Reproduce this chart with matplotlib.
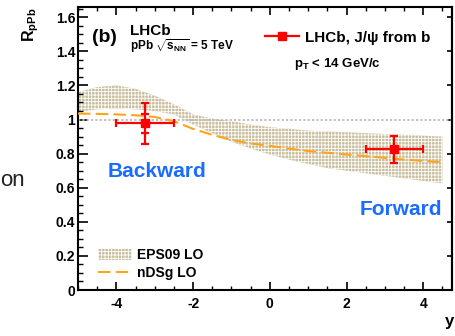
import matplotlib
matplotlib.use("Agg")
import matplotlib.pyplot as plt
import numpy as np
from matplotlib.lines import Line2D
from matplotlib.patches import Patch
from matplotlib.ticker import MultipleLocator, FormatStrFormatter, NullLocator

plt.rcParams['font.family'] = ['Liberation Sans', 'DejaVu Sans']
plt.rcParams['mathtext.fontset'] = 'custom'
plt.rcParams['mathtext.rm'] = 'Liberation Sans'
plt.rcParams['mathtext.bf'] = 'Liberation Sans:bold'
plt.rcParams['mathtext.it'] = 'Liberation Sans:italic'
plt.rcParams['axes.unicode_minus'] = False
plt.rcParams['hatch.linewidth'] = 0.6

# LHCb J/psi from b, R_pPb vs rapidity
x_pts = [-3.25, 3.25]
x_err = [0.75, 0.75]
y_pts = [0.977, 0.825]
y_tot = [0.12, 0.081]
y_stat = [0.057, 0.012]

# EPS09 LO band
x_band = [-5, -4.5, -4, -3.5, -3, -2.5, -2, -1.5, -1, -0.5, 0, 0.5, 1, 1.5, 2, 2.5, 3, 3.5, 4, 4.5]
band_hi = [1.16, 1.19, 1.20, 1.18, 1.14, 1.09, 1.03, 1.005, 0.99, 0.97, 0.955, 0.945, 0.935, 0.93, 0.925, 0.92, 0.915, 0.91, 0.905, 0.90]
band_lo = [1.045, 1.06, 1.065, 1.06, 1.05, 1.03, 0.97, 0.92, 0.87, 0.83, 0.795, 0.765, 0.74, 0.715, 0.70, 0.685, 0.67, 0.655, 0.64, 0.625]

# nDSg LO curve
ndsg = [1.035, 1.033, 1.03, 1.025, 1.015, 0.99, 0.945, 0.91, 0.88, 0.86, 0.845, 0.83, 0.815, 0.805, 0.795, 0.785, 0.775, 0.765, 0.757, 0.75]

yticks = [0, 0.2, 0.4, 0.6, 0.8, 1.0, 1.2, 1.4, 1.6]

fig = plt.figure(figsize=(4.55, 3.36), dpi=100)
ax = fig.add_axes([78/455, 1-290/336, 374/455, 283/336])

band = ax.fill_between(x_band, band_lo, band_hi, facecolor='#c9bd9b', edgecolor='white',
                       hatch='+++++', linewidth=0, zorder=1)
ax.axhline(1.0, color='#bbbbbb', ls=(0, (1.2, 1.2)), lw=1.3, zorder=2)
ax.plot(x_band, ndsg, color='#ffa31a', lw=1.5, dashes=(6, 2.5), zorder=3)

red = '#ff0000'
ax.errorbar(x_pts, y_pts, xerr=x_err, yerr=y_tot, fmt='none', ecolor=red, elinewidth=1.6,
            capsize=3, capthick=1.6, zorder=4)
# stat caps only
ax.errorbar(x_pts, y_pts, yerr=y_stat, fmt='none', ecolor=red, elinewidth=0,
            capsize=3, capthick=1.6, zorder=4)
ax.plot(x_pts, y_pts, 's', color=red, ms=5.5, zorder=5)

ax.set_xlim(-5, 4.75)
ax.set_ylim(0, 1.66)
ax.set_yticks(yticks)
ax.yaxis.set_major_formatter(FormatStrFormatter('%g'))
ax.xaxis.set_major_locator(MultipleLocator(2))
ax.xaxis.set_minor_locator(MultipleLocator(0.5))
ax.yaxis.set_minor_locator(MultipleLocator(0.05))
ax.xaxis.set_major_formatter(FormatStrFormatter('%g'))

ax.tick_params(axis='x', which='major', direction='in', length=6, width=1.2, top=True,
               labelsize=10, pad=5)
ax.tick_params(axis='x', which='minor', direction='in', length=3, width=1.0, top=True)
ax.tick_params(axis='y', which='major', direction='in', length=7, width=1.2, right=False,
               labelsize=10, pad=2)
ax.tick_params(axis='y', which='minor', direction='in', length=3.5, width=1.0, right=False)
for lab in ax.get_xticklabels() + ax.get_yticklabels():
    lab.set_fontweight('bold')
for s in ax.spines.values():
    s.set_linewidth(1.5)

sec = ax.secondary_yaxis('right')
sec.set_yticks(yticks)
sec.yaxis.set_minor_locator(NullLocator())
sec.tick_params(direction='in', length=3.5, width=1.2, labelright=False)
sec.spines['right'].set_linewidth(1.5)

# texts
ax.text(0.038, 0.892, '(b)', transform=ax.transAxes, fontsize=14, fontweight='bold', va='center')
ax.text(0.139, 0.915, 'LHCb', transform=ax.transAxes, fontsize=11, fontweight='bold', va='center')
ax.text(0.139, 0.862, r'pPb $\sqrt{\mathbf{s}_{\mathbf{NN}}}$ = 5 TeV', transform=ax.transAxes,
        fontsize=8.5, fontweight='bold', va='center')
ax.text(0.578, 0.789, r'p$_{\mathbf{T}}$ < 14 GeV/c', transform=ax.transAxes, fontsize=9.5,
        fontweight='bold', va='baseline')
ax.text(0.078, 0.399, 'Backward', transform=ax.transAxes, fontsize=15, fontweight='bold',
        color='#1a6cff', va='baseline')
ax.text(0.754, 0.265, 'Forward', transform=ax.transAxes, fontsize=15, fontweight='bold',
        color='#1a6cff', va='baseline')

h1 = Line2D([], [], color=red, lw=1.6, marker='s', ms=5.5)
leg1 = ax.legend([h1], ['LHCb, J/\u03c8 from b'], loc='center left', bbox_to_anchor=(0.5, 0.8915),
                 frameon=False, handlelength=2.2, handletextpad=0.45,
                 borderpad=0, borderaxespad=0, prop={'weight': 'bold', 'size': 11})
ax.add_artist(leg1)

h2 = Patch(facecolor='#c9bd9b', edgecolor='white', hatch='+++++', linewidth=0)
h3 = Line2D([], [], color='#ffa31a', lw=1.5, dashes=(6, 2.5))
ax.legend([h2, h3], ['EPS09 LO', 'nDSg LO'], loc='center left', bbox_to_anchor=(0.0535, 0.092),
          frameon=False, handlelength=2.45, handleheight=0.85, handletextpad=0.36,
          labelspacing=0.3, borderpad=0, borderaxespad=0, prop={'weight': 'bold', 'size': 10})

fig.text(0.068, 0.976, r'R$_{\mathbf{pPb}}$', rotation=90, ha='center', va='top',
         fontsize=11.5, fontweight='bold')
fig.text(0.998, 0.030, 'y', fontsize=12, fontweight='bold', ha='right', va='baseline')
fig.text(0.0, 1-181/336, 'on', fontsize=16, color='#222222', ha='left', va='center')

fig.savefig('out.png', dpi=100)
